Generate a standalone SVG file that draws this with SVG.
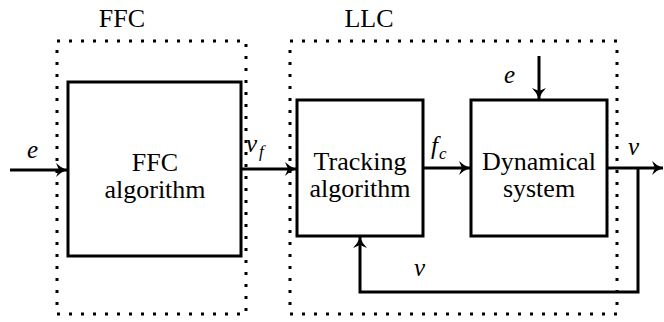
<svg xmlns="http://www.w3.org/2000/svg" width="664" height="322" viewBox="0 0 664 322">
<style>
.blk{fill:none;stroke:#000;stroke-width:3}
.grp{fill:none;stroke:#000;stroke-width:3;stroke-dasharray:3 9}
.ln{fill:none;stroke:#000;stroke-width:3}
.t{font-size:26px;text-anchor:middle;fill:#000}
.m{font-style:italic;font-size:25px;fill:#000}
.s{font-size:17px}
</style>
<defs>
<marker id="ah" viewBox="-12 -8 14 16" refX="0" refY="0" markerWidth="14" markerHeight="16" markerUnits="userSpaceOnUse" orient="auto">
<path d="M0,0 Q-6,-2 -11,-7 L-8,0 L-11,7 Q-6,2 0,0 Z" fill="#000"/>
</marker>
</defs>
<g id="ffc-group">
<rect class="grp" x="57" y="41" width="189" height="273"/>
<text class="t" x="122" y="27" font-family="serif">FFC</text>
</g>
<g id="llc-group">
<rect class="grp" x="290" y="41" width="327" height="273"/>
<text class="t" x="369" y="27" font-family="serif">LLC</text>
</g>
<g id="ffc-block">
<rect class="blk" x="68" y="82" width="173" height="174"/>
<text class="t" x="155" y="171" font-family="serif">FFC</text>
<text class="t" x="155" y="198" font-family="serif">algorithm</text>
</g>
<g id="tracking">
<rect class="blk" x="297" y="100" width="126" height="136"/>
<text class="t" x="360" y="170" font-family="serif">Tracking</text>
<text class="t" x="360" y="197" font-family="serif">algorithm</text>
</g>
<g id="dynamical">
<rect class="blk" x="471" y="100" width="136" height="136"/>
<text class="t" x="539" y="170" font-family="serif">Dynamical</text>
<text class="t" x="539" y="197" font-family="serif">system</text>
</g>
<g id="connectors">
<line class="ln" x1="10" y1="170" x2="67" y2="170" marker-end="url(#ah)"/>
<line class="ln" x1="241" y1="169" x2="296" y2="169" marker-end="url(#ah)"/>
<line class="ln" x1="423" y1="168" x2="470" y2="168" marker-end="url(#ah)"/>
<line class="ln" x1="539" y1="56" x2="539" y2="99" marker-end="url(#ah)"/>
<line class="ln" x1="607" y1="168" x2="663" y2="168" marker-end="url(#ah)"/>
<polyline class="ln" points="638,168 638,292 360,292 360,237" marker-end="url(#ah)"/>
</g>
<g id="labels">
<text class="m" x="27" y="158" font-family="serif">e</text>
<text class="m" x="246" y="152" font-family="serif">v<tspan class="s" dx="2" dy="5">f</tspan></text>
<text class="m" x="431" y="154" font-family="serif">f<tspan class="s" dx="1" dy="5">c</tspan></text>
<text class="m" x="628" y="155" font-family="serif">v</text>
<text class="m" x="504" y="83" font-family="serif">e</text>
<text class="m" x="414" y="276" font-family="serif">v</text>
</g>
</svg>
